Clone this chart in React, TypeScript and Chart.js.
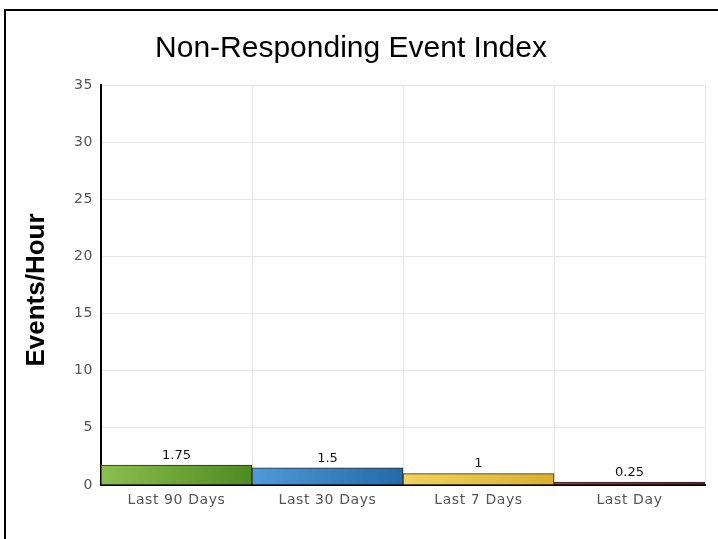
import React, { useEffect, useRef } from "react";
import { Chart, registerables } from "chart.js";

Chart.register(...registerables);

const categories = ["Last 90 Days", "Last 30 Days", "Last 7 Days", "Last Day"];
const values = [1.75, 1.5, 1, 0.25];
const barLight = ["#8cbf4e", "#4f9ad8", "#f0d25a", "#a83a3a"];
const barDark = ["#4f8a1f", "#226aa8", "#d8b030", "#7a1818"];
const titleText = "Non-Responding Event Index";
const yTitle = "Events/Hour";

const framePlugin = {
  id: "frame",
  beforeDraw(chart: any) {
    const { ctx, width, height } = chart;
    ctx.save();
    ctx.fillStyle = "#ffffff";
    ctx.fillRect(0, 0, width, height);
    ctx.strokeStyle = "#000000";
    ctx.lineWidth = 2;
    ctx.beginPath();
    ctx.moveTo(5, height);
    ctx.lineTo(5, 10);
    ctx.lineTo(width, 10);
    ctx.stroke();
    ctx.restore();
    (ctx as any).letterSpacing = "0.6px";
  },
  afterDraw(chart: any) {
    const { ctx } = chart;
    (ctx as any).letterSpacing = "0px";
    ctx.save();
    ctx.fillStyle = "#000000";
    ctx.font = "normal 30px 'Liberation Sans', Arial, sans-serif";
    ctx.textAlign = "center";
    ctx.textBaseline = "alphabetic";
    ctx.fillText(titleText, 351, 57);
    ctx.translate(37, chart.chartArea.top + (chart.chartArea.bottom - chart.chartArea.top) / 2 + 5);
    ctx.rotate(-Math.PI / 2);
    ctx.font = "bold 26px 'Liberation Sans', Arial, sans-serif";
    ctx.textBaseline = "middle";
    ctx.fillText(yTitle, 0, 0);
    ctx.restore();
  },
};

const labelPlugin = {
  id: "valueLabels",
  afterDatasetsDraw(chart: any) {
    const { ctx } = chart;
    const meta = chart.getDatasetMeta(0);
    ctx.save();
    (ctx as any).letterSpacing = "0px";
    ctx.fillStyle = "#111111";
    ctx.font = "13px 'DejaVu Sans', sans-serif";
    ctx.textAlign = "center";
    ctx.textBaseline = "bottom";
    meta.data.forEach((bar: any, i: number) => {
      ctx.fillText(String(values[i]), bar.x, bar.y - 3);
    });
    ctx.restore();
    (ctx as any).letterSpacing = "0.6px";
  },
};

export default function App() {
  const ref = useRef<HTMLCanvasElement>(null);
  useEffect(() => {
    if (!ref.current) return;
    const chart = new Chart(ref.current, {
      type: "bar",
      data: {
        labels: categories,
        datasets: [
          {
            data: values,
            backgroundColor: (c: any) => {
              const chart = c.chart;
              const xs = chart.scales && chart.scales.x;
              const i = c.dataIndex;
              if (!xs || i === undefined || !xs.width) return barDark[i ?? 0];
              const x0 = xs.getPixelForValue(i - 0.5);
              const x1 = xs.getPixelForValue(i + 0.5);
              if (!isFinite(x0) || !isFinite(x1)) return barDark[i];
              const g = chart.ctx.createLinearGradient(x0, 0, x1, 0);
              g.addColorStop(0, barLight[i]);
              g.addColorStop(1, barDark[i]);
              return g;
            },
            borderColor: "#2b2b2b",
            borderWidth: 1,
            barPercentage: 1,
            categoryPercentage: 1,
          },
        ],
      },
      options: {
        animation: false,
        responsive: false,
        maintainAspectRatio: false,
        layout: { padding: { left: 6, right: 13, top: 85, bottom: 0 } },
        plugins: {
          legend: { display: false },
          tooltip: { enabled: false },
          title: { display: false },
        },
        scales: {
          x: {
            grid: { color: "#e6e6e6", offset: true, drawTicks: false },
            border: { color: "#000000", width: 2 },
            ticks: {
              color: "#555555",
              font: { family: "'DejaVu Sans', sans-serif", size: 14 },
              padding: 7,
            },
            afterFit: (s: any) => {
              s.height = 54;
            },
          },
          y: {
            min: 0,
            max: 35,
            ticks: {
              stepSize: 5,
              color: "#555555",
              font: { family: "'DejaVu Sans', sans-serif", size: 14 },
              padding: 8,
            },
            grid: { color: "#e6e6e6", drawTicks: false },
            border: { color: "#000000", width: 2 },
            afterFit: (s: any) => {
              s.width = 95;
            },
          },
        },
      },
      plugins: [framePlugin, labelPlugin],
    });
    return () => chart.destroy();
  }, []);
  return (
    <div style={{ position: "absolute", left: 0, top: 0, width: 718, height: 539 }}>
      <canvas ref={ref} width={718} height={539} style={{ display: "block", width: 718, height: 539 }} />
    </div>
  );
}
